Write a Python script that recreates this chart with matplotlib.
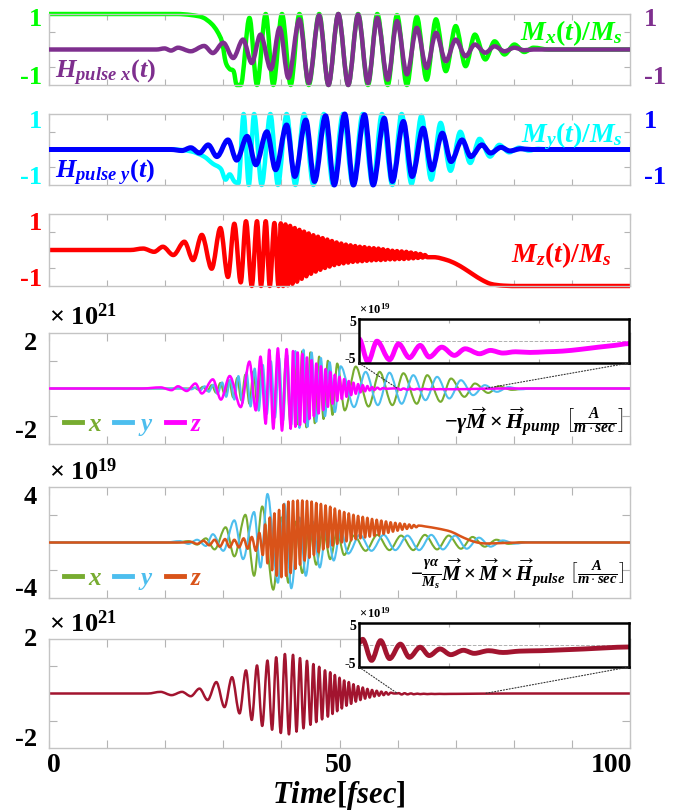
import numpy as np
import matplotlib
matplotlib.use('Agg')
import matplotlib.pyplot as plt
from matplotlib.lines import Line2D
from matplotlib.path import Path
from matplotlib.patches import PathPatch, ConnectionPatch

# fonts
plt.rcParams['font.family'] = ['Liberation Serif', 'DejaVu Serif']
plt.rcParams['font.weight'] = 'bold'
plt.rcParams['mathtext.fontset'] = 'custom'
plt.rcParams['mathtext.rm'] = 'Liberation Serif:bold'
plt.rcParams['mathtext.it'] = 'Liberation Serif:bold:italic'
plt.rcParams['mathtext.bf'] = 'Liberation Serif:bold'

# ---------------- data (extrema, time in fsec) ----------------

# panel 1 : Mx/Ms and H_pulse,x
mx_t = [0, 22.0, 24.5, 26.5, 28.0, 29.0, 29.8, 30.4, 31.1, 31.8, 32.3, 33.0, 34.5, 35.8, 37.3, 38.6,
        40.1, 41.6, 43.1, 44.7, 46.5, 48.1, 49.8, 51.5, 53.2, 54.9, 56.5, 58.3, 59.9, 61.6, 63.3, 65.0,
        66.6, 68.3, 70.0, 71.7, 73.3, 75.1, 76.7, 78.4, 80.1, 81.8, 83.4, 86.0, 100]
mx_v = [1.0, 1.0, 0.97, 0.9, 0.72, 0.5, 0.2, -0.35, -0.55, -0.62, -1.0, -1.0, 0.89, -1.0, 1.0, -1.0,
        1.0, -1.0, 1.0, -1.0, 1.0, -1.0, 1.0, -1.0, 1.0, -1.0, 1.0, -1.0, 0.97, -1.0, 0.92, -0.85,
        0.85, -0.61, 0.66, -0.47, 0.42, -0.28, 0.23, -0.14, 0.14, -0.07, 0.05, 0.0, 0.0]
hx_t = [0, 18.5, 19.9, 21.0, 22.2, 24.4, 26.7, 28.2, 30.0, 31.7, 33.4, 34.9, 36.4, 38.2, 39.7, 41.2,
        43.1, 44.7, 46.5, 48.1, 49.8, 51.5, 53.2, 54.9, 56.5, 58.3, 59.9, 61.6, 63.3, 65.0, 66.6, 68.3,
        70.0, 71.7, 73.3, 75.1, 76.7, 78.4, 80.1, 81.8, 83.4, 100]
hx_v = [0, 0, 0.03, -0.03, 0.05, -0.05, 0.1, -0.1, 0.19, -0.24, 0.28, -0.38, 0.42, -0.56, 0.61, -0.8,
        0.85, -0.94, 0.96, -1.0, 1.0, -1.0, 0.98, -0.94, 0.89, -0.85, 0.8, -0.7, 0.61, -0.52, 0.47, -0.33,
        0.28, -0.19, 0.14, -0.09, 0.09, -0.05, 0.05, -0.02, 0.0, 0.0]

# panel 2 : My/Ms and H_pulse,y
my_t = [0, 21.0, 24.4, 26.7, 28.2, 29.6, 30.4, 31.1, 31.9, 32.6, 33.5, 34.4, 35.3, 36.6, 38.1, 39.4,
        40.9, 42.4, 43.9, 45.5, 47.3, 48.9, 50.6, 52.3, 54.0, 55.7, 57.3, 59.1, 60.7, 62.4, 64.1, 65.8,
        67.4, 69.1, 70.8, 72.5, 74.1, 75.9, 77.5, 79.2, 80.9, 82.6, 84.2, 86, 100]
my_v = [0, 0, -0.05, -0.2, -0.4, -0.55, -0.85, -0.7, -0.9, -0.95, 1.0, -1.0, 1.0, -1.0, 1.0, -1.0,
        1.0, -1.0, 1.0, -1.0, 1.0, -1.0, 1.0, -1.0, 1.0, -1.0, 1.0, -1.0, 1.0, -0.97, 0.95, -0.85,
        0.75, -0.6, 0.5, -0.38, 0.3, -0.2, 0.13, -0.08, 0.05, -0.03, 0.02, 0, 0]
hy_t = [0, 21.0, 22.9, 24.4, 25.9, 27.4, 28.9, 30.8, 32.3, 34.1, 35.6, 37.5, 39.0, 40.9, 42.3, 44.2,
        45.7, 47.6, 49.1, 50.9, 52.4, 54.3, 55.8, 57.7, 59.1, 61.0, 62.5, 64.4, 65.9, 67.7, 69.2, 71.1,
        72.6, 74.5, 76.0, 77.8, 79.3, 81.2, 83.0, 100]
hy_v = [0, 0, -0.03, 0.05, -0.1, 0.13, -0.2, 0.27, -0.3, 0.37, -0.43, 0.5, -0.57, 0.69, -0.76, 0.83,
        -0.9, 0.95, -1.0, 1.0, -1.0, 0.98, -1.0, 0.88, -0.9, 0.79, -0.76, 0.6, -0.57, 0.46, -0.34, 0.27,
        -0.2, 0.13, -0.1, 0.06, -0.04, 0.02, 0, 0]

# panel 3 : Mz/Ms
mz_t = [0, 14, 16.2, 18.1, 19.6, 21.4, 23.3, 24.8, 26.3, 28.0, 29.5, 30.8, 31.9, 33.0, 33.9, 34.9,
        35.8, 36.5, 37.3, 38.0, 38.8,
        39.5, 39.9, 40.3, 40.7, 41.1, 41.5, 41.9, 42.3, 42.7, 43.1, 43.5, 43.9, 44.3, 44.7, 45.1, 45.5,
        45.9, 46.3, 46.7, 47.1, 47.5, 47.9, 48.3, 48.7, 49.1, 49.5, 49.9, 50.3, 50.7, 51.1, 51.5, 51.9,
        52.3, 52.7, 53.1, 53.5, 53.9, 54.3, 54.7, 55.1, 55.5, 55.9, 56.3, 56.7, 57.1, 57.5, 57.9, 58.3,
        58.7, 59.1, 59.5, 59.9, 60.3, 60.7, 61.1, 61.5, 61.9, 62.3, 62.7, 63.1, 63.5, 63.9, 64.3, 64.7,
        65.1,
        66.2, 68.5, 70.0, 71.5, 73.0, 74.5, 76.0, 78.2, 81.2, 100]
mz_v = [0, 0, 0.04, -0.05, 0.09, -0.14, 0.23, -0.28, 0.42, -0.52, 0.61, -0.75, 0.73, -0.9, 0.8, -1.0,
        0.8, -1.0, 0.8, -1.0, 0.75,
        -1.0, 0.74, -1.0, 0.71, -0.98, 0.67, -0.94, 0.61, -0.88, 0.56, -0.8, 0.51, -0.73, 0.46, -0.66, 0.41,
        -0.6, 0.37, -0.55, 0.33, -0.5, 0.29, -0.46, 0.25, -0.42, 0.21, -0.39, 0.18, -0.37, 0.15, -0.35, 0.13,
        -0.33, 0.11, -0.32, 0.09, -0.31, 0.08, -0.3, 0.06, -0.29, 0.05, -0.28, 0.04, -0.28, 0.02, -0.27, 0.0,
        -0.26, -0.02, -0.26, -0.03, -0.25, -0.04, -0.25, -0.05, -0.24, -0.07, -0.23, -0.09, -0.22, -0.11, -0.21, -0.14,
        -0.2,
        -0.2, -0.28, -0.38, -0.52, -0.68, -0.83, -0.94, -0.99, -1.0, -1.0]

# panel 4 : -gamma M x H_pump  (x10^21)
p4x_t = [0, 24, 25.0, 25.75, 26.5, 27.25, 28.0, 28.75, 29.5, 30.25, 31.0, 31.7, 32.4, 33.1, 33.8, 34.5,
         35.2, 35.9, 36.6, 37.3, 38.0, 38.7, 39.4, 40.1, 40.8, 41.5, 42.2, 42.9, 43.6, 44.3, 45.0, 45.75,
         46.5, 47.25, 48.0, 48.8, 49.6, 50.9, 52.8, 55.0, 56.9, 59.1, 61.0, 63.3, 65.1, 67.4, 69.2, 71.5,
         73.3, 75.6, 77.4, 79.7, 82, 100]
p4x_v = [0, 0, 0.03, -0.04, 0.06, -0.08, 0.12, -0.15, 0.2, -0.22, 0.28, -0.32, 0.38, -0.42, 0.5, -0.55,
         0.62, -0.68, 0.75, -0.82, 0.9, -0.95, 1.0, -1.05, 1.1, -1.15, 1.25, -1.3, 1.35, -1.4, 1.3, -1.25,
         1.15, -1.1, 1.0, -0.95, 0.9, -0.79, 0.79, -0.65, 0.6, -0.6, 0.55, -0.55, 0.48, -0.48, 0.36, -0.3,
         0.18, -0.16, 0.08, -0.05, 0.0, 0]
p4y_t = [0, 23, 24.5, 25.3, 26.0, 26.8, 27.5, 28.3, 29.0, 29.8, 30.5, 31.2, 31.9, 32.6, 33.3, 34.0,
         34.7, 35.4, 36.1, 36.8, 37.5, 38.2, 38.9, 39.6, 40.3, 41.0, 41.7, 42.4, 43.1, 43.8, 44.5, 45.2,
         46.0, 46.8, 47.5, 48.3, 49.2, 50.2, 52.5, 54.5, 56.6, 58.6, 60.7, 62.7, 64.8, 66.8, 68.9, 70.9,
         73.0, 75.0, 77.1, 79.1, 81.2, 83, 100]
p4y_v = [0, 0, -0.03, 0.04, -0.07, 0.08, -0.12, 0.14, -0.2, 0.22, -0.3, 0.32, -0.4, 0.45, -0.52, 0.58,
         -0.65, 0.72, -0.8, 0.85, -0.92, 0.98, -1.05, 1.1, -1.15, 1.2, -1.3, 1.35, -1.42, 1.4, -1.38, 1.3,
         -1.2, 1.1, -1.0, 0.95, -0.85, 0.8, -0.67, 0.6, -0.6, 0.57, -0.55, 0.48, -0.42, 0.42, -0.36, 0.3,
         -0.24, 0.12, -0.12, 0.05, -0.03, 0, 0]
p4z_t = [0, 16, 19.2, 21.1, 22.2, 23.7, 25.2, 26.3, 28.2, 29.6, 31.1, 33.0, 34.5, 35.6, 36.4, 37.3,
         37.9, 38.6, 39.4, 40.1, 40.9, 41.6, 42.0, 42.4, 42.8, 43.2, 43.6, 44.0, 44.4, 44.8, 45.2, 45.6,
         46.0, 46.4, 46.8, 47.2, 47.6, 48.0, 48.4, 48.8, 49.2, 49.6, 50.0, 50.4, 50.8, 51.2, 51.6, 52.0,
         52.4, 52.8, 53.2, 53.6, 54.0, 54.4, 54.8, 55.2, 55.6, 56.0, 56.5, 57.0, 57.5, 58.0, 59.0]
p4z_v = [0, 0, 0.04, -0.06, 0.08, -0.09, 0.18, -0.18, 0.33, -0.4, 0.45, -0.67, 0.97, -0.79, 1.15, -1.27,
         1.4, -1.45, 1.45, -1.52, 1.42, -1.45, 1.35, -1.38, 1.3, -1.32, 1.25, -1.22, 1.12, -1.1, 1.02, -1.0,
         0.9, -0.9, 0.8, -0.78, 0.7, -0.66, 0.6, -0.55, 0.5, -0.45, 0.42, -0.38, 0.34, -0.3, 0.27, -0.24,
         0.21, -0.19, 0.16, -0.14, 0.12, -0.1, 0.09, -0.07, 0.05, -0.05, 0.03, -0.03, 0.015, -0.01, 0.0]
# zoomed z tail (x10^19)
p4zoom_t = [60.0, 60.5, 61.0, 61.7, 62.2, 62.8, 63.4, 63.9, 64.6, 65.3, 65.9, 66.7, 67.3, 68.0, 68.7,
            69.5, 70.4, 71.3, 72.3, 73.3, 74.2, 75.0]
p4zoom_v = [0.5, -4.77, -0.04, -4.25, -0.64, -3.8, -1.0, -3.65, -1.4, -3.27, -1.77, -2.9, -2.14, -2.74,
            -2.45, -2.6, -2.45, -2.3, -1.9, -1.4, -1.0, -0.6]

# panel 5 : damping torque (x10^19)
p5x_t = [0, 22, 24, 25.5, 27.0, 28.5, 30.4, 31.9, 33.8, 35.3, 36.7, 38.6, 40.0, 41.2, 42.4, 43.6,
         44.8, 46.0, 47.2, 48.4, 49.6, 50.8, 52.5, 54.5, 56.5, 58.6, 60.6, 62.7, 64.7, 66.8, 68.8, 70.9,
         72.9, 75.0, 77.0, 79.1, 81.5, 100]
p5x_v = [0, 0, 0.1, -0.15, 0.3, -0.5, 1.1, -1.0, 2.0, -2.4, 2.6, -3.4, 1.8, -2.9, 1.5, -2.2,
         1.2, -1.6, 1.0, -1.2, 0.8, -0.9, 0.5, -0.6, 0.55, -0.55, 0.5, -0.55, 0.55, -0.5, 0.5, -0.45,
         0.4, -0.3, 0.2, -0.1, 0.03, 0]
p5y_t = [0, 20, 22.5, 24.0, 25.5, 27.0, 28.2, 30.0, 31.9, 33.4, 35.3, 36.4, 37.6, 39.4, 40.5, 41.7,
         43.1, 44.2, 45.4, 46.6, 47.8, 49.0, 50.2, 51.5, 53.5, 55.5, 57.6, 59.6, 61.7, 63.7, 65.8, 67.8,
         69.9, 71.9, 74.0, 76.0, 78.1, 80.2, 82.5, 100]
p5y_v = [0, 0, 0.1, -0.1, 0.2, -0.25, 0.6, -0.6, 1.6, -1.2, 2.2, -1.8, 3.5, -2.9, 2.8, -3.3,
         1.8, -2.4, 1.5, -1.8, 1.2, -1.3, 0.9, -0.8, 0.55, -0.6, 0.55, -0.55, 0.5, -0.55, 0.55, -0.5,
         0.5, -0.45, 0.35, -0.3, 0.15, -0.08, 0.02, 0]
p5z_t = [0, 23, 24.4, 25.5, 26.6, 27.6, 28.5, 29.4, 30.3, 31.1, 31.9, 32.7, 33.5, 34.2, 34.9, 35.6,
         36.2, 36.8,
         37.2, 37.6, 38.0, 38.4, 38.8, 39.2, 39.6, 40.0, 40.4, 40.8, 41.2, 41.6, 42.0, 42.4, 42.8, 43.2,
         43.6, 44.0, 44.4, 44.8, 45.2, 45.6, 46.0, 46.4, 46.8, 47.2, 47.6, 48.0, 48.4, 48.8, 49.2, 49.6,
         50.0, 50.4, 50.8, 51.2, 51.6, 52.0, 52.4, 52.8, 53.2, 53.6, 54.0, 54.4, 54.8, 55.2, 55.6, 56.0,
         56.4, 56.8, 57.2, 57.6, 58.0, 58.4, 58.8, 59.2, 59.6, 60.0, 60.4, 60.8, 61.2, 61.6, 62.0, 62.4,
         62.8, 63.2, 63.6,
         64.7, 67.0, 69.2, 70.7, 72.2, 73.7, 75.2, 77.4, 81.2, 100]
p5z_v = [0, 0, 0.05, -0.1, 0.12, -0.2, 0.2, -0.3, 0.25, -0.35, 0.2, -0.35, 0.3, -0.45, 0.4, -0.6,
         0.7, -0.9,
         1.3, -1.5, 1.8, -2.0, 2.1, -2.4, 2.35, -2.5, 2.75, -2.4, 2.95, -2.2, 3.0, -1.9, 3.03, -1.6,
         3.03, -1.3, 3.0, -1.1, 2.95, -0.9, 2.85, -0.7, 2.78, -0.5, 2.67, -0.35, 2.58, -0.22, 2.45, -0.1,
         2.3, 0.0, 2.2, 0.08, 2.1, 0.15, 2.0, 0.24, 1.92, 0.3, 1.85, 0.36, 1.78, 0.42, 1.7, 0.48,
         1.64, 0.55, 1.58, 0.62, 1.52, 0.7, 1.46, 0.78, 1.42, 0.85, 1.38, 0.92, 1.34, 0.98, 1.3, 1.04,
         1.26, 1.1, 1.22,
         1.16, 1.0, 0.78, 0.48, 0.2, 0.0, -0.07, -0.05, 0, 0]

# panel 6 : total z torque (x10^21)
p6_t = [0, 17, 19.2, 21.1, 22.9, 24.4, 25.9, 27.3, 28.8, 30.2, 31.5, 32.8, 33.9, 34.9, 35.8, 36.7,
        37.6, 38.4, 39.1, 39.9, 40.6, 41.3, 42.0, 42.6, 43.2, 43.8, 44.4, 45.0, 45.5, 46.0, 46.5, 47.0,
        47.5, 48.0, 48.4, 48.8, 49.2, 49.6, 50.0, 50.4, 50.8, 51.2, 51.6, 52.0, 52.4, 52.8, 53.2, 53.6,
        54.0, 54.4, 54.8, 55.2, 55.6, 56.0, 56.4, 56.8, 57.2, 57.6, 58.0, 58.4, 58.8, 59.4]
p6_v = [0, 0, 0.06, -0.06, 0.06, -0.1, 0.18, -0.24, 0.42, -0.5, 0.6, -0.73, 0.85, -0.97, 1.03, -1.19,
        1.21, -1.33, 1.33, -1.45, 1.45, -1.5, 1.42, -1.4, 1.3, -1.28, 1.2, -1.15, 1.08, -1.05, 0.98, -0.95,
        0.85, -0.85, 0.78, -0.75, 0.68, -0.65, 0.58, -0.55, 0.48, -0.45, 0.42, -0.38, 0.34, -0.3, 0.27, -0.24,
        0.22, -0.19, 0.17, -0.15, 0.13, -0.11, 0.1, -0.08, 0.07, -0.06, 0.05, -0.04, 0.03, 0.0]
p6zoom_t = [60.0, 60.2, 60.7, 61.2, 61.7, 62.3, 62.8, 63.4, 63.9, 64.5, 65.1, 65.8, 66.4, 67.2, 68.0,
            68.9, 70.1, 71.3, 72.5, 73.7, 75.0]
p6zoom_v = [0.5, 1.3, -3.5, 1.0, -3.1, 0.2, -2.8, -0.5, -2.4, -0.9, -2.2, -1.2, -1.9, -1.3, -1.7,
            -1.4, -1.3, -1.1, -0.9, -0.65, -0.45]

# colours
GREEN, PURPLE = '#00ff00', '#7e2f8e'
CYAN, BLUE = '#00ffff', '#0000ff'
RED = '#ff0000'
OLIVE, SKY, MAGENTA, ORANGE, CRIMSON = '#77ac30', '#4dbeee', '#ff00ff', '#d95319', '#a2142f'

W, H = 679, 811
fig = plt.figure(figsize=(W / 100, H / 100), dpi=100)


def box(top, bottom, left=49, right=630):
    return [left / W, 1 - bottom / H, (right - left) / W, (bottom - top) / H]


def ftext(x, y, s, **kw):
    kw.setdefault('va', 'center')
    fig.text(x / W, 1 - y / H, s, **kw)


def curve(ax, t, v, color, lw, clip=True, z=2):
    # smooth line through the read extrema (flat tangent at every extremum)
    t = np.asarray(t, float)
    v = np.asarray(v, float)
    m = np.zeros_like(v)
    d = np.diff(v)
    for i in range(1, len(v) - 1):
        if d[i - 1] * d[i] > 0:
            m[i] = (v[i + 1] - v[i - 1]) / (t[i + 1] - t[i - 1])
    verts = [(t[0], v[0])]
    codes = [Path.MOVETO]
    for i in range(len(t) - 1):
        h = (t[i + 1] - t[i]) / 3
        verts += [(t[i] + h, v[i] + m[i] * h), (t[i + 1] - h, v[i + 1] - m[i + 1] * h), (t[i + 1], v[i + 1])]
        codes += [Path.CURVE4] * 3
    patch = PathPatch(Path(verts, codes), fill=False, edgecolor=color, lw=lw,
                      joinstyle='round', capstyle='butt', zorder=z)
    patch.set_clip_on(clip)
    ax.add_patch(patch)


def style(ax, ylim, yt, tl=4):
    ax.set_xlim(0, 100)
    ax.set_ylim(*ylim)
    ax.set_xticks(range(0, 101, 10))
    ax.set_yticks(yt)
    ax.tick_params(direction='in', length=tl, width=0.8, color='#b4b4b4', top=True, right=True,
                   labelbottom=False, labelleft=False)
    for s in ax.spines.values():
        s.set_color('#c4c4c4')
        s.set_linewidth(1.0)


# ---------------- panel 1 ----------------
ax1 = fig.add_axes(box(14, 85))
style(ax1, (-1, 1), [-0.5, 0.5])
curve(ax1, mx_t, mx_v, GREEN, 3.2, clip=False)
curve(ax1, hx_t, hx_v, PURPLE, 3.2, clip=False, z=3)
ftext(42, 20, '1', color=GREEN, fontsize=19, ha='right')
ftext(42, 78, '-1', color=GREEN, fontsize=19, ha='right')
ftext(644, 20, '1', color=PURPLE, fontsize=19, ha='left')
ftext(644, 78, '-1', color=PURPLE, fontsize=19, ha='left')
ftext(623, 33, r'$M_x(t)/M_s$', color=GREEN, fontsize=20, ha='right')
ftext(55, 73, r'$H_{pulse\ x}(t)$', color=PURPLE, fontsize=19, ha='left')

# ---------------- panel 2 ----------------
ax2 = fig.add_axes(box(114, 185))
style(ax2, (-1, 1), [-0.5, 0.5])
curve(ax2, my_t, my_v, CYAN, 3.2, clip=False)
curve(ax2, hy_t, hy_v, BLUE, 3.6, clip=False, z=3)
ftext(42, 121, '1', color=CYAN, fontsize=19, ha='right')
ftext(42, 178, '-1', color=CYAN, fontsize=19, ha='right')
ftext(644, 121, '1', color=BLUE, fontsize=19, ha='left')
ftext(644, 178, '-1', color=BLUE, fontsize=19, ha='left')
ftext(623, 136, r'$M_y(t)/M_s$', color=CYAN, fontsize=20, ha='right')
ftext(55, 173, r'$H_{pulse\ y}(t)$', color=BLUE, fontsize=19, ha='left')

# ---------------- panel 3 ----------------
ax3 = fig.add_axes(box(214, 286))
style(ax3, (-1, 1), [-0.5, 0.5])
curve(ax3, mz_t, mz_v, RED, 3.2, clip=False)
ftext(42, 224, '1', color=RED, fontsize=19, ha='right')
ftext(42, 279, '-1', color=RED, fontsize=19, ha='right')
ftext(612, 255, r'$M_z(t)/M_s$', color=RED, fontsize=20, ha='right')


def legend(ax, colors, y):
    hs = [Line2D([], [], color=c, lw=3.5) for c in colors]
    ax.legend(hs, ['$x$', '$y$', '$z$'], loc='lower left', bbox_to_anchor=(0.0, y), ncol=3,
              frameon=False, fontsize=18, handlelength=0.7, handletextpad=0.25, columnspacing=0.5,
              labelcolor=colors, borderaxespad=0.2)


def zoom_box(ax, rect, t, v, color, ypix):
    ins = fig.add_axes(rect)
    ins.set_xlim(60, 75)
    ins.set_ylim(-5, 5)
    ins.set_xticks([65, 70])
    ins.set_yticks([])
    ins.tick_params(direction='in', length=3, width=0.8, color='#b4b4b4', top=True,
                    labelbottom=False, labelleft=False)
    for s in ins.spines.values():
        s.set_color('black')
        s.set_linewidth(1.8)
    ins.axhline(0, ls='--', color='#b0b0b0', lw=0.7, zorder=1)
    curve(ins, t, v, color, 3.5)
    for xa, xd in ((0, 60), (1, 75)):
        con = ConnectionPatch(xyA=(xa, 0), coordsA=ins.transAxes, xyB=(xd, 0), coordsB=ax.transData,
                              ls=':', color='#333333', lw=0.8, zorder=5)
        fig.add_artist(con)
    top, bot = ypix
    ftext(356, top + 4, '5', fontsize=10, ha='right')
    ftext(356, bot - 3, '-5', fontsize=10, ha='right')
    ftext(359, top - 10, r'$\times\,10^{19}$', fontsize=9, ha='left')
    return ins


# ---------------- panel 4 ----------------
ax4 = fig.add_axes(box(333, 444))
style(ax4, (-2, 2), [-1, 1], tl=6)
curve(ax4, p4x_t, p4x_v, OLIVE, 1.5)
curve(ax4, p4y_t, p4y_v, SKY, 1.5)
curve(ax4, np.concatenate([p4z_t, p4zoom_t, [80, 100]]),
      np.concatenate([p4z_v, np.array(p4zoom_v) / 100, [0, 0]]), MAGENTA, 1.8, z=3)
ftext(37, 343, '2', fontsize=19, ha='right')
ftext(37, 432, '-2', fontsize=19, ha='right')
ftext(49, 317, r'$\times\ 10^{21}$', fontsize=19, ha='left')
legend(ax4, [OLIVE, SKY, MAGENTA], -0.08)
ftext(624, 422, r'$-\gamma\overrightarrow{M}\times\overrightarrow{H}_{pump}\ \left[\frac{A}{m\cdot sec}\right]$',
      fontsize=16, ha='right')
zoom_box(ax4, box(319, 363, 359, 629), p4zoom_t, p4zoom_v, MAGENTA, (319, 363))

# ---------------- panel 5 ----------------
ax5 = fig.add_axes(box(487, 598))
style(ax5, (-4, 4), [-2, 2], tl=6)
curve(ax5, p5x_t, p5x_v, OLIVE, 1.5)
curve(ax5, p5y_t, p5y_v, SKY, 1.5)
curve(ax5, p5z_t, p5z_v, ORANGE, 1.8, z=3)
ftext(37, 498, '4', fontsize=19, ha='right')
ftext(37, 590, '-4', fontsize=19, ha='right')
ftext(49, 472, r'$\times\ 10^{19}$', fontsize=19, ha='left')
legend(ax5, [OLIVE, SKY, ORANGE], -0.08)
ftext(624, 574, r'$-\frac{\gamma\alpha}{M_s}\overrightarrow{M}\times\overrightarrow{M}\times'
                r'\overrightarrow{H}_{pulse}\ \left[\frac{A}{m\cdot sec}\right]$',
      fontsize=15, ha='right')

# ---------------- panel 6 ----------------
ax6 = fig.add_axes(box(639, 748))
style(ax6, (-2, 2), [-1, 1], tl=6)
curve(ax6, np.concatenate([p6_t, p6zoom_t, [80, 100]]),
      np.concatenate([p6_v, np.array(p6zoom_v) / 100, [0, 0]]), CRIMSON, 1.8)
ftext(37, 640, '2', fontsize=19, ha='right')
ftext(37, 740, '-2', fontsize=19, ha='right')
ftext(49, 624, r'$\times\ 10^{21}$', fontsize=19, ha='left')
zoom_box(ax6, box(623, 667, 359, 629), p6zoom_t, p6zoom_v, CRIMSON, (623, 667))

# time axis
ftext(47, 766, '0', fontsize=20, ha='left')
ftext(339, 766, '50', fontsize=20, ha='center')
ftext(632, 766, '100', fontsize=20, ha='right')
ftext(339, 796, r'$Time[fsec]$', fontsize=22, ha='center')

fig.savefig('out.png', dpi=100)
